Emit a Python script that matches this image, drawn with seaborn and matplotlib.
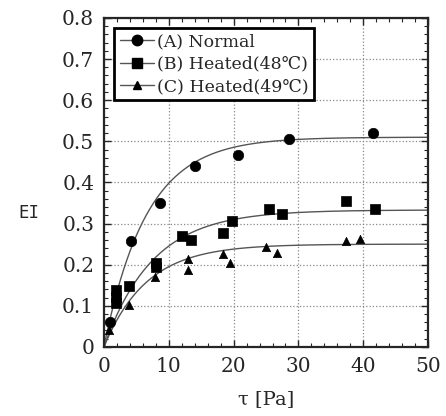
import numpy as np
import pandas as pd
import matplotlib
matplotlib.use("Agg")
import matplotlib.pyplot as plt
from matplotlib.lines import Line2D
from matplotlib.ticker import MultipleLocator
import seaborn as sns

# measured points
tau_a = [0.9, 4.1, 8.6, 14.0, 20.6, 28.6, 41.5]
ei_a = [0.06, 0.258, 0.351, 0.44, 0.466, 0.505, 0.521]

tau_b = [1.9, 1.9, 1.9, 3.8, 8.1, 8.1, 12.1, 13.5, 18.3, 19.7, 25.5, 27.5, 37.4, 41.8]
ei_b = [0.139, 0.122, 0.108, 0.148, 0.204, 0.194, 0.27, 0.26, 0.278, 0.305, 0.335, 0.324, 0.354, 0.335]

tau_c = [0.8, 3.8, 7.9, 12.9, 12.9, 18.3, 19.4, 25.0, 26.7, 37.3, 39.5]
ei_c = [0.04, 0.102, 0.171, 0.214, 0.186, 0.226, 0.204, 0.243, 0.228, 0.258, 0.263]

labels = ["(A) Normal", "(B) Heated(48\u2103)", "(C) Heated(49\u2103)"]
markers = ["o", "s", "^"]
msizes = [7.5, 7.5, 6.0]

# fitted curves EI = ei_max * (1 - exp(-tau / tau0))
ei_max = [0.51, 0.333, 0.25]
tau0 = [6.6, 7.5, 6.6]

sns.set_style("ticks")
plt.rcParams["font.family"] = ["DejaVu Serif", "DejaVu Sans"]

fig = plt.figure(figsize=(4.46, 4.16), dpi=100)
ax = fig.add_axes([0.233, 0.166, 0.727, 0.791])

tau_fit = np.linspace(0, 50, 300)
for m, t0 in zip(ei_max, tau0):
    sns.lineplot(x=tau_fit, y=m * (1 - np.exp(-tau_fit / t0)), ax=ax,
                 color="#555555", linewidth=1.0, zorder=2)

series = [(tau_a, ei_a), (tau_b, ei_b), (tau_c, ei_c)]
for (t, e), mk, ms in zip(series, markers, msizes):
    df = pd.DataFrame({"tau": t, "EI": e})
    sns.scatterplot(data=df, x="tau", y="EI", ax=ax, marker=mk, s=ms ** 2,
                    color="black", edgecolor="black", linewidth=0.5, zorder=3)

ax.set_xlim(0, 50)
ax.set_ylim(0, 0.8)
ax.xaxis.set_major_locator(MultipleLocator(10))
ax.xaxis.set_minor_locator(MultipleLocator(2))
ax.yaxis.set_major_locator(MultipleLocator(0.1))
ax.yaxis.set_minor_locator(MultipleLocator(0.02))
ax.set_yticklabels(["0" if abs(v) < 1e-9 else f"{v:.1f}" for v in ax.get_yticks()])
ax.grid(True, which="major", linestyle=":", color="#888888", linewidth=0.9)
ax.tick_params(which="both", direction="in", top=True, right=True, labelsize=14.5, pad=7)
ax.tick_params(which="major", length=5, width=1)
ax.tick_params(which="minor", length=3, width=0.8)
for s in ax.spines.values():
    s.set_linewidth(1.6)

ax.set_xlabel("\u03c4 [Pa]", fontsize=14, labelpad=10)
ax.set_ylabel("EI", fontsize=12.5, rotation=0, family="DejaVu Sans Mono")
ax.yaxis.set_label_coords(-0.23, 0.38)

handles = [Line2D([0], [0], color="#555555", linewidth=1.0, marker=mk,
                  markersize=ms, markerfacecolor="black", markeredgecolor="black")
           for mk, ms in zip(markers, msizes)]
leg = ax.legend(handles, labels, loc="upper left", fontsize=12.5, frameon=True,
                fancybox=False, framealpha=1, edgecolor="black",
                handlelength=2.0, handletextpad=0.15, borderpad=0.3,
                labelspacing=0.3, borderaxespad=0.6)
leg.get_frame().set_linewidth(2.0)

fig.savefig("out.png", dpi=100)
